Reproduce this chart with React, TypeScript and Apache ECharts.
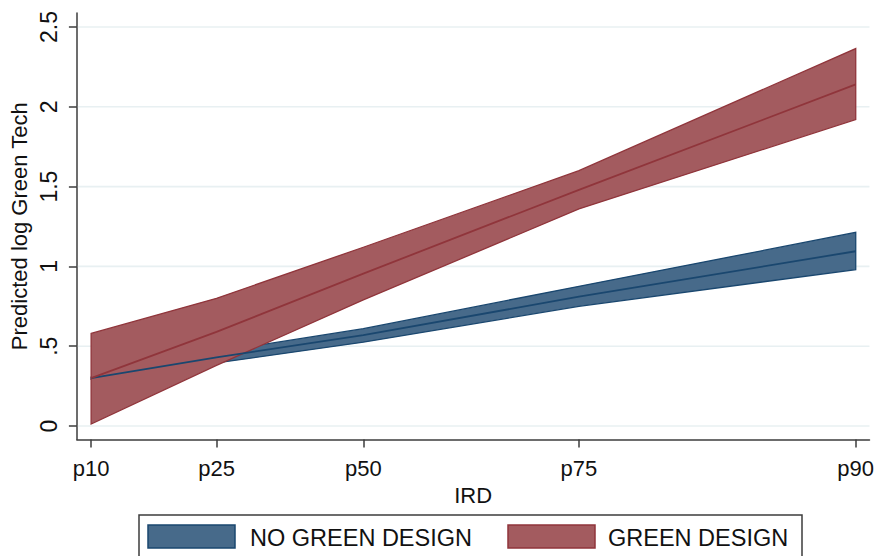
import React, { useEffect, useRef } from "react";
import * as echarts from "echarts";

// ---- data ----
const xTickLabels = ["p10", "p25", "p50", "p75", "p90"];
// relative IRD positions of the percentiles (p10 = 0, p90 = 100)
const irdPositions = [0, 16.4, 35.6, 63.8, 100];
const yTickValues = [0, 0.5, 1, 1.5, 2, 2.5];
const yTickLabels = ["0", ".5", "1", "1.5", "2", "2.5"];
const seriesNames = ["NO GREEN DESIGN", "GREEN DESIGN"];

const noGreenMid = [0.3, 0.43, 0.57, 0.81, 1.095];
const noGreenLower = [0.293, 0.395, 0.525, 0.75, 0.98];
const noGreenUpper = [0.307, 0.465, 0.61, 0.875, 1.213];

const greenMid = [0.3, 0.59, 0.955, 1.48, 2.14];
const greenLower = [0.012, 0.38, 0.79, 1.36, 1.92];
const greenUpper = [0.58, 0.8, 1.12, 1.6, 2.365];

// ---- style ----
const FONT = "'Liberation Sans', Arial, sans-serif";
const X_MIN = -1.86;
const X_MAX = 101.8;
const Y_MIN = -0.0845;
const Y_MAX = 2.5877;
const BLUE_FILL = "#476a8a";
const BLUE_EDGE = "#1a476f";
const RED_FILL = "#a35b5f";
const RED_EDGE = "#90353b";
const AXIS_COLOR = "#3c3c3c";
const GRID_COLOR = "#e8f0f2";

function bandSeries(name: string, lower: number[], upper: number[], fill: string, edge: string, z: number) {
  return {
    type: "custom",
    name,
    z,
    silent: true,
    data: irdPositions.map((x, i) => [x, lower[i], upper[i]]),
    encode: { x: 0, y: [1, 2] },
    renderItem: (params: any, api: any) => {
      if (params.dataIndex !== 0) return null;
      const pts: number[][] = [];
      for (let i = 0; i < irdPositions.length; i++) pts.push(api.coord([irdPositions[i], upper[i]]));
      for (let i = irdPositions.length - 1; i >= 0; i--) pts.push(api.coord([irdPositions[i], lower[i]]));
      return {
        type: "polygon",
        shape: { points: pts },
        style: { fill, stroke: edge, lineWidth: 1.3 },
      };
    },
  };
}

function lineSeries(name: string, mid: number[], edge: string) {
  return {
    type: "line",
    name,
    z: 4,
    silent: true,
    symbol: "none",
    data: irdPositions.map((x, i) => [x, mid[i]]),
    lineStyle: { color: edge, width: 1.8 },
  };
}

export default function App() {
  const ref = useRef<HTMLDivElement>(null);
  useEffect(() => {
    const chart = echarts.init(ref.current!, null, { renderer: "svg" });
    const option: any = {
      animation: false,
      backgroundColor: "#ffffff",
      textStyle: { fontFamily: FONT, color: "#111" },
      grid: { left: 72, right: 7, top: 13, bottom: 116.5, containLabel: false },
      xAxis: {
        type: "value",
        min: X_MIN,
        max: X_MAX,
        name: "IRD",
        nameLocation: "middle",
        nameGap: 39,
        nameTextStyle: { fontSize: 22, color: "#111", fontFamily: FONT },
        axisLine: { show: true, onZero: false, lineStyle: { color: AXIS_COLOR, width: 1.5 } },
        axisTick: { show: true, customValues: irdPositions, length: 8, lineStyle: { color: AXIS_COLOR, width: 1.5 } },
        axisLabel: {
          customValues: irdPositions,
          margin: 18,
          fontSize: 22,
          color: "#111",
          fontFamily: FONT,
          formatter: (v: number) => {
            const i = irdPositions.findIndex((p) => Math.abs(p - v) < 1e-6);
            return i >= 0 ? xTickLabels[i] : "";
          },
        },
        splitLine: { show: false },
      },
      yAxis: {
        type: "value",
        min: Y_MIN,
        max: Y_MAX,
        name: "Predicted log Green Tech",
        nameLocation: "middle",
        nameGap: 43,
        nameTextStyle: { fontSize: 22, color: "#111", fontFamily: FONT },
        axisLine: { show: true, onZero: false, lineStyle: { color: AXIS_COLOR, width: 1.5 } },
        axisTick: { show: true, customValues: yTickValues, length: 8, lineStyle: { color: AXIS_COLOR, width: 1.5 } },
        axisLabel: {
          customValues: yTickValues,
          rotate: 90,
          margin: 16,
          fontSize: 23,
          color: "#111",
          fontFamily: FONT,
          formatter: (v: number) => {
            const i = yTickValues.findIndex((p) => Math.abs(p - v) < 1e-6);
            return i >= 0 ? yTickLabels[i] : "";
          },
        },
        splitLine: { show: false },
      },
      series: [
        {
          type: "custom",
          name: "grid",
          z: 1,
          silent: true,
          data: yTickValues.map((v) => [X_MIN, v]),
          encode: { x: 0, y: 1 },
          renderItem: (params: any, api: any) => {
            const v = yTickValues[params.dataIndex];
            const p1 = api.coord([X_MIN, v]);
            const p2 = api.coord([X_MAX, v]);
            return {
              type: "line",
              shape: { x1: p1[0] + 1, y1: p1[1], x2: p2[0], y2: p2[1] },
              style: { stroke: GRID_COLOR, lineWidth: 1.6 },
            };
          },
        },
        bandSeries(seriesNames[0], noGreenLower, noGreenUpper, BLUE_FILL, BLUE_EDGE, 2),
        bandSeries(seriesNames[1], greenLower, greenUpper, RED_FILL, RED_EDGE, 3),
        lineSeries(seriesNames[0] + " fit", noGreenMid, BLUE_EDGE),
        lineSeries(seriesNames[1] + " fit", greenMid, RED_EDGE),
      ],
      graphic: [
        {
          type: "group",
          silent: true,
          children: [
            {
              type: "rect",
              shape: { x: 139, y: 515, width: 663, height: 60 },
              style: { fill: "#ffffff", stroke: AXIS_COLOR, lineWidth: 1.5 },
            },
            {
              type: "rect",
              shape: { x: 148, y: 525, width: 87, height: 23 },
              style: { fill: BLUE_FILL, stroke: BLUE_EDGE, lineWidth: 1.5 },
            },
            {
              type: "text",
              x: 250,
              y: 537.5,
              style: {
                text: seriesNames[0],
                fontSize: 23.5,
                fontFamily: FONT,
                fill: "#111",
                verticalAlign: "middle",
                align: "left",
              },
            },
            {
              type: "rect",
              shape: { x: 508, y: 525, width: 87, height: 23 },
              style: { fill: RED_FILL, stroke: RED_EDGE, lineWidth: 1.5 },
            },
            {
              type: "text",
              x: 608,
              y: 537.5,
              style: {
                text: seriesNames[1],
                fontSize: 23.5,
                fontFamily: FONT,
                fill: "#111",
                verticalAlign: "middle",
                align: "left",
              },
            },
          ],
        },
      ],
    };
    chart.setOption(option);
    return () => chart.dispose();
  }, []);
  return <div ref={ref} style={{ position: "fixed", left: 0, top: 0, width: 877, height: 556 }} />;
}
